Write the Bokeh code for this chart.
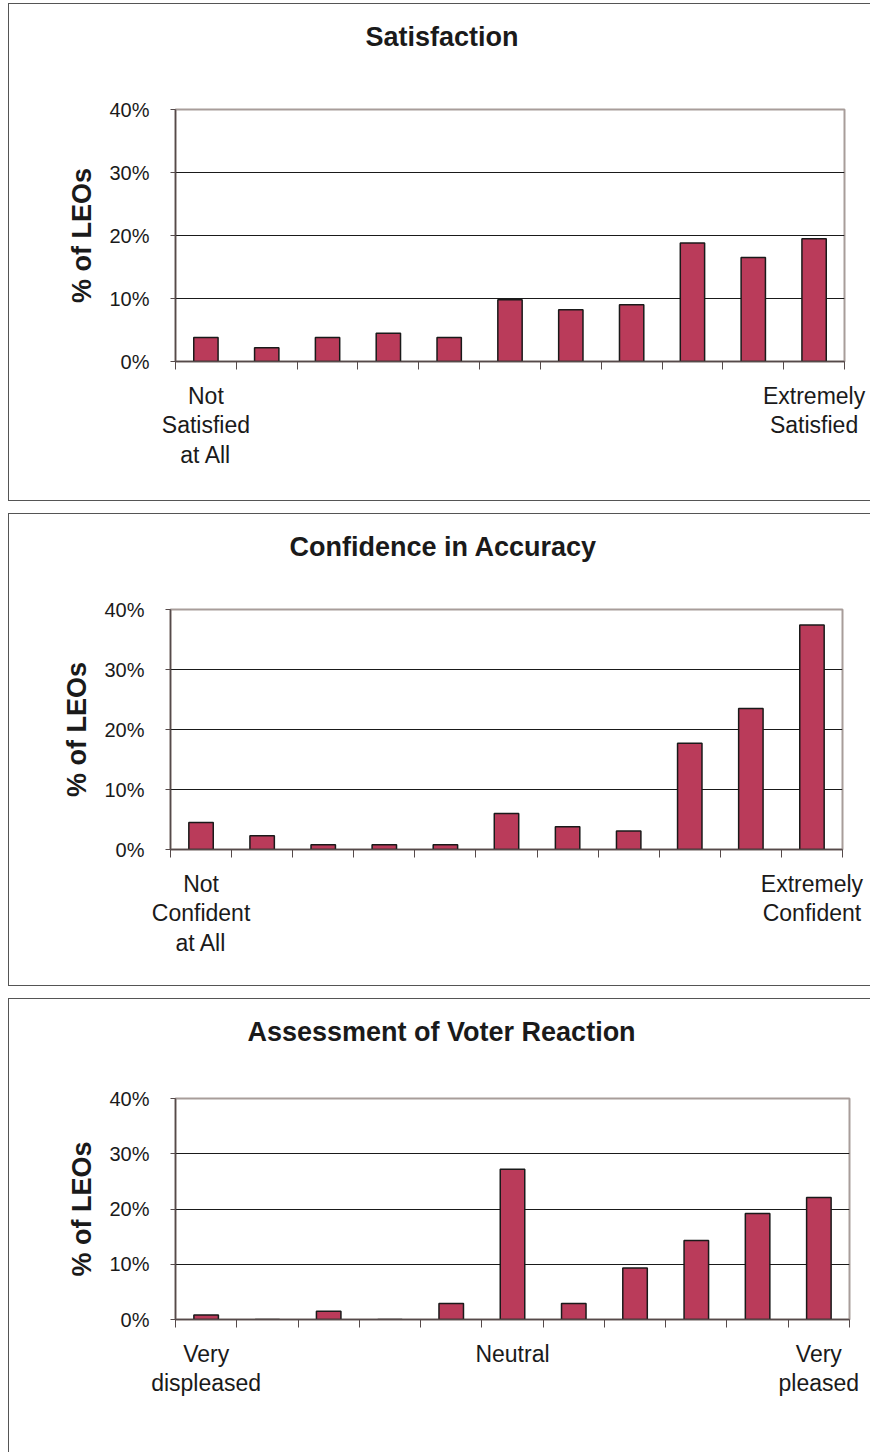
from bokeh.plotting import figure
from bokeh.models import FixedTicker, PrintfTickFormatter, ColumnDataSource, Range1d, Title
from bokeh.layouts import column
from bokeh.embed import file_html
from bokeh.resources import INLINE

# ---- data ----
categories = [1, 2, 3, 4, 5, 6, 7, 8, 9, 10, 11]
satisfaction = [3.8, 2.2, 3.8, 4.5, 3.8, 9.8, 8.2, 9.0, 18.8, 16.5, 19.5]
confidence = [4.5, 2.3, 0.8, 0.8, 0.8, 6.0, 3.8, 3.1, 17.7, 23.5, 37.4]
voter_reaction = [0.8, 0.0, 1.5, 0.0, 2.9, 27.2, 2.9, 9.3, 14.3, 19.2, 22.1]
y_ticks = [0, 10, 20, 30, 40]
grid_ticks = [10, 20, 30]
sat_labels = {1: "Not\nSatisfied\nat All", 11: "Extremely\nSatisfied"}
conf_labels = {1: "Not\nConfident\nat All", 11: "Extremely\nConfident"}
voter_labels = {1: "Very\ndispleased", 6: "Neutral", 11: "Very\npleased"}
titles = ["Satisfaction", "Confidence in Accuracy", "Assessment of Voter Reaction"]
y_title = "% of LEOs"

FONT = "Liberation Sans"
BAR_FILL = "#BA3B5A"
WIDTH = 862


def make_panel(title, values, labels, height, spacer, bottom_gap, left, right_gap,
               title_offset, border_bottom=True, margin_top=0):
    src = ColumnDataSource(dict(x=categories, top=values))
    p = figure(width=WIDTH, height=height, output_backend="svg", toolbar_location=None,
               x_range=Range1d(0.5, 11.5), y_range=Range1d(0, 40),
               min_border_top=0, min_border_bottom=bottom_gap,
               min_border_left=left, min_border_right=right_gap,
               background_fill_color="white", border_fill_color="white")
    p.frame_align = False
    border = "1px solid #555555"
    styles = {"border-left": border, "border-top": border, "margin-left": "8px"}
    if margin_top:
        styles["margin-top"] = f"{margin_top}px"
    if border_bottom:
        styles["border-bottom"] = border
    p.styles = styles

    p.vbar(x="x", top="top", width=0.4, source=src, fill_color=BAR_FILL,
           line_color="#1a1a1a", line_width=1.5)

    # spacer between title and frame, then the title itself (outermost)
    p.add_layout(Title(text=" ", text_font_size="10px", standoff=spacer), "above")
    p.add_layout(Title(text=title, text_font=FONT, text_font_size="27px",
                       text_font_style="bold", text_color="#1a1a1a",
                       align="left", offset=title_offset, standoff=30), "above")

    # frame / grid
    p.outline_line_color = "#a89d9a"
    p.outline_line_width = 2
    p.xgrid.visible = False
    p.ygrid.ticker = FixedTicker(ticks=grid_ticks)
    p.ygrid.grid_line_color = "#1a1a1a"
    p.ygrid.grid_line_width = 1

    # y axis
    ya = p.yaxis[0]
    ya.ticker = FixedTicker(ticks=y_ticks, minor_ticks=[])
    ya.formatter = PrintfTickFormatter(format="%d%%")
    ya.axis_line_color = "#554a4a"
    ya.axis_line_width = 1.5
    ya.major_tick_line_color = "#554a4a"
    ya.major_tick_out = 5
    ya.major_tick_in = 0
    ya.minor_tick_line_color = None
    ya.major_label_text_font = FONT
    ya.major_label_text_font_size = "20px"
    ya.major_label_text_color = "#1a1a1a"
    ya.major_label_standoff = 21
    ya.axis_label = y_title
    ya.axis_label_text_font = FONT
    ya.axis_label_text_font_size = "27px"
    ya.axis_label_text_font_style = "bold"
    ya.axis_label_text_color = "#1a1a1a"
    ya.axis_label_standoff = 9

    # x axis
    xa = p.xaxis[0]
    xa.ticker = FixedTicker(ticks=list(labels.keys()),
                            minor_ticks=[c - 0.5 for c in categories] + [categories[-1] + 0.5])
    xa.major_label_overrides = labels
    xa.axis_line_color = "#554a4a"
    xa.axis_line_width = 1.5
    xa.major_tick_out = 0
    xa.major_tick_in = 0
    xa.minor_tick_out = 8
    xa.minor_tick_in = 0
    xa.minor_tick_line_color = "#554a4a"
    xa.major_label_text_font = FONT
    xa.major_label_text_font_size = "23px"
    xa.major_label_text_color = "#1a1a1a"
    xa.major_label_text_line_height = 1.15
    xa.major_label_standoff = 13
    return p


p1 = make_panel(titles[0], satisfaction, sat_labels, 498, 30, 141, 166, 27,
                190, margin_top=3)
p2 = make_panel(titles[1], confidence, conf_labels, 473, 20, 138, 161, 29,
                119)
p3 = make_panel(titles[2], voter_reaction, voter_labels, 454, 24, 134, 166, 22,
                72, border_bottom=False)

layout = column(p1, p2, p3, spacing=12)
open("out.html", "w").write(file_html(layout, INLINE))
